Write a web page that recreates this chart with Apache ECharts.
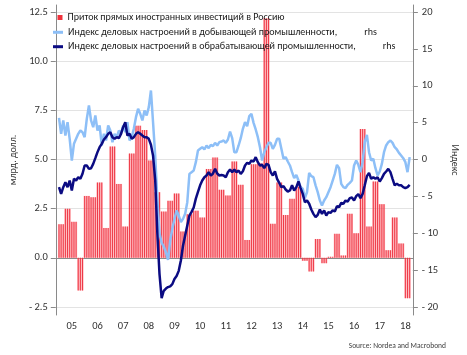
<!DOCTYPE html>
<html><head><meta charset="utf-8">
<script src="https://cdn.jsdelivr.net/npm/echarts@6/dist/echarts.min.js"></script>
<style>html,body{margin:0;padding:0;background:#fff}#c{width:467px;height:355px}</style>
</head><body><div id="c"></div>
<script>
// ---- data ----
const years = ['05','06','07','08','09','10','11','12','13','14','15','16','17','18'];
// Quarterly FDI inflow, bn USD (2005Q1 .. 2018Q3)
const fdiQuarterly = [1.71, 2.49, 1.83, -1.66, 3.15, 3.08, 3.83, 1.52, 5.66, 3.76, 1.59, 5.30,
  6.72, 6.50, 4.95, 3.34, 2.35, 2.90, 3.27, 1.34, 2.22, 2.40, 2.05, 4.52, 5.10, 3.46, 3.17, 4.90,
  3.71, 0.91, 4.76, 4.80, 12.18, 1.73, 3.83, 2.18, 3.00, 3.62, -0.15, -0.69, 0.96, -0.27, 0.05, 1.22,
  0.12, 2.24, 1.25, 6.55, 1.59, 3.88, 2.73, 0.39, 2.05, 0.73, -2.05];
// Monthly business confidence, mining (Jan 2005 .. Sep 2018), rhs
const miningIndex = [5.65, 3.48, 5.29, 3.25, 5.06, 2.80, -0.14, 2.12, 2.80, 3.48, 3.93, 3.71,
  3.03, 5.51, 7.32, 5.29, 4.38, 5.97, 3.93, 4.61, 1.90, 3.48, 2.58, 4.61,
  3.93, 2.35, 3.48, 3.03, 3.93, 3.48, 4.61, 3.71, 5.06, 2.58, 3.03, 4.16,
  5.74, 6.87, 6.19, 5.29, 6.64, 5.97, 7.1, 9.36, 5.0, 0.5, -5.5, -10.0,
  -11.3, -11.8, -12.6, -13.6, -11.0, -9.4, -8.05, -6.92, -7.6, -8.5, -8.05, -7.37,
  -5.79, -1.95, -1.72, -1.5, -0.36, 1.22, 1.45, 1.67, 1.36, 1.9, 1.54, 1.99,
  1.81, 2.26, 1.9, 2.35, 2.44, 2.58, 2.26, 2.71, 3.79, 2.89, 0.99,
  0.99, 1.90, 2.89, 4.16, 5.06, 4.52, 5.88, 6.19, 4.97, 4.07, 3.03, 1.67,
  -0.14, 0.99, 1.67, 2.26, 2.26, 1.45, 1.99, 2.80, 2.8, 1.45, 0.09, 0.32,
  -0.27, -0.81, -1.72, -2.53, -2.08, -2.85, -3.75, -3.97, -5.24, -4.43, -1.81, -2.26,
  -2.4, -3.5, -4.43, -5.56, -6.24, -5.56,
  -5.11, -4.43, -3.75, -2.85, -1.95, -0.72, -1.18, -3.3, -3.75, -3.88, -3.43, -3.16,
  -2.85, -0.81, -0.14, -0.72, -1.72, -0.36, 2.35, 3.34, 0.99, -0.14, 0.09, -1.18,
  -2.17, -1.63, -0.59, 0.99, 1.90, 2.35, 2.58, 2.26, 1.67, 1.36, 0.9, 0.54,
  0.18, -0.36, -1.72, 0.32];
// Monthly business confidence, manufacturing (Jan 2005 .. Sep 2018), rhs
const manufIndex = [-3.75, -4.66, -3.75, -3.07, -3.75, -2.85, -4.20, -2.62, -2.85, -2.40, -2.62, -1.94,
  -0.81, -0.81, -1.27, -1.18, -0.59, 0.18, 1.00, 1.67, 2.12, 2.71, 3.03, 3.48,
  3.71, 3.03, 2.80, 3.03, 2.89, 3.48, 4.38, 5.06, 3.25, 3.48, 2.80, 3.03,
  3.48, 3.71, 3.48, 3.25, 3.03, 3.03, 2.8, 2.0, 0.5, -2.8, -10.0, -15.5,
  -18.8, -17.8, -17.5, -17.3, -17.2, -16.9, -16.2, -15.8, -15.1, -13.7, -11.7, -10.3,
  -8.95, -7.6, -7.1, -6.5, -5.3, -4.4, -3.5, -2.85, -2.4, -2.17, -1.72, -2.2,
  -1.9, -1.27, -1.9, -2.17, -2.1, -2.17, -2.4, -1.72, -1.36, -1.72, -1.36,
  -1.72, -1.5, -1.95, -1.6, -0.81, -0.45, -0.59, -0.14, -0.27, 0.32, -0.36, -0.81,
  -0.72, -1.18, -0.59, -0.72, -1.72, -2.17, -1.6, -2.62, -3.16, -3.75, -3.6, -4.07,
  -4.34, -4.2, -3.5, -4.2, -3.75, -2.98, -3.88, -4.66, -5.79, -5.56, -6.0, -6.78,
  -7.37, -7.82, -7.5, -6.78, -7.37, -6.9,
  -7.59, -7.14, -7.23, -6.9, -7.05, -6.33, -6.46, -5.88, -6.0, -5.56, -5.7, -5.24,
  -5.15, -5.56, -4.97, -4.7, -5.24, -4.66, -3.5, -2.26, -1.81, -2.62, -2.4, -2.62,
  -2.4, -2.98, -2.53, -1.95, -1.63, -1.27, -1.72, -2.62, -3.5, -3.3, -3.5, -3.5,
  -3.75, -3.88, -3.75, -3.43];
const leftTicks = [-2.5, 0, 2.5, 5, 7.5, 10, 12.5];
const rightTicks = [-20, -15, -10, -5, 0, 5, 10, 15, 20];

const FDI_NAME = 'Приток прямых иностранных инвестиций в Россию';
const MINING_NAME = 'Индекс деловых настроений в добывающей промышленности,';
const MANUF_NAME = 'Индекс деловых настроений в обрабатывающей промышленности,';

// ---- monthly category axis: Dec 2004 .. Oct 2018 ----
const categories = ['2004-12'];
years.forEach(yy => { for (let m = 1; m <= 12; m++) categories.push('20' + yy + '-' + String(m).padStart(2, '0')); });
categories.length = categories.indexOf('2018-10') + 1;

const fdiMonthly = categories.map((c, k) => {
  if (k === 0) return null;
  const q = Math.floor((k - 1) / 3);
  return q < fdiQuarterly.length ? fdiQuarterly[q] : null;
});
const mining = categories.map((c, k) => k === 0 ? null : (k - 1 < miningIndex.length ? miningIndex[k - 1] : null));
const manuf = categories.map((c, k) => k === 0 ? null : (k - 1 < manufIndex.length ? manufIndex[k - 1] : null));

// ---- layout ----
const GT = 5, GB = 315, TT = 12, TB = 307;
const lppu = (TB - TT) / 15, rppu = (TB - TT) / 40;
const lMax = 12.5 + (TT - GT) / lppu, lMin = -2.5 - (GB - TB) / lppu;
const rMax = 20 + (TT - GT) / rppu, rMin = -20 - (GB - TB) / rppu;

const FONT = 'Carlito, Lato, sans-serif';
const axisGray = '#8a8a8a';
const fmtL = v => { const a = Math.abs(v).toFixed(1); return v < 0 ? '- ' + a : a; };
const fmtR = v => v < 0 ? '- ' + Math.abs(v) : String(v);

const chart = echarts.init(document.getElementById('c'), null, {renderer: 'canvas'});
chart.setOption({
  animation: false,
  textStyle: {fontFamily: FONT},
  title: {text: 'Source: Nordea and Macrobond', right: 16, top: 337,
    textStyle: {fontSize: 7.5, fontWeight: 'normal', color: '#404040', fontFamily: FONT}},
  legend: [
    {data: [{name: FDI_NAME, itemStyle: {color: '#f0323c'}}], left: 52.5, top: 6.5,
     icon: 'rect', itemWidth: 5, itemHeight: 5, selectedMode: false,
     textStyle: {fontSize: 10, lineHeight: 12, color: '#1a1a1a'}},
    {data: [MINING_NAME, MANUF_NAME], orient: 'vertical', left: 48, top: 21.3,
     icon: 'rect', itemWidth: 10, itemHeight: 3, itemGap: 2.4, selectedMode: false,
     formatter: n => n + '{s|}rhs',
     textStyle: {fontSize: 10, lineHeight: 12, color: '#1a1a1a', rich: {s: {width: 27}}}}
  ],
  grid: {left: 46, right: 43, top: GT, bottom: 355 - GB, containLabel: false},
  xAxis: [
    {type: 'category', data: categories, boundaryGap: true,
     axisLine: {lineStyle: {color: axisGray}},
     axisTick: {length: 5, lineStyle: {color: axisGray}, interval: (i, v) => v.endsWith('-01')},
     axisLabel: {interval: (i, v) => v.endsWith('-07'), formatter: v => v.slice(2, 4),
       margin: 6, fontSize: 10.5, color: '#333'}},
    {type: 'category', data: categories, boundaryGap: true, show: false}
  ],
  yAxis: [
    {type: 'value', min: lMin, max: lMax, position: 'left',
     axisLine: {show: true, lineStyle: {color: axisGray}},
     axisTick: {show: true, length: 5, customValues: leftTicks, lineStyle: {color: axisGray}},
     axisLabel: {customValues: leftTicks, formatter: fmtL, margin: 8, fontSize: 10.5, color: '#333'},
     splitLine: {show: true, lineStyle: {color: '#e3e3e3', width: 1}},
     name: 'млрд. долл.', nameLocation: 'middle', nameGap: 30,
     nameTextStyle: {fontSize: 10, color: '#333'}},
    {type: 'value', min: rMin, max: rMax, position: 'right',
     axisLine: {show: true, lineStyle: {color: axisGray}},
     axisTick: {show: true, length: 5, customValues: rightTicks, lineStyle: {color: axisGray}},
     axisLabel: {customValues: rightTicks, formatter: fmtR, margin: 9, fontSize: 10.5, color: '#333'},
     splitLine: {show: false},
     name: 'Индекс', nameLocation: 'middle', nameGap: 25, nameRotate: -90,
     nameTextStyle: {fontSize: 10, color: '#333'}}
  ],
  series: [
    {name: MINING_NAME, type: 'line', yAxisIndex: 1, data: mining, symbol: 'none',
     color: '#8dbff7', lineStyle: {color: '#8dbff7', width: 2.5}, silent: true},
    {name: FDI_NAME, type: 'bar', data: fdiMonthly, barCategoryGap: '0%',
     itemStyle: {color: 'rgba(255,120,130,0.55)'}, silent: true},
    {name: FDI_NAME, type: 'bar', xAxisIndex: 1, data: fdiMonthly, barWidth: 1,
     itemStyle: {color: 'rgba(235,35,50,0.85)'}, silent: true},
    {name: MANUF_NAME, type: 'line', yAxisIndex: 1, data: manuf, symbol: 'none',
     color: '#0b0b82', lineStyle: {color: '#0b0b82', width: 2.5}, silent: true}
  ]
});
</script></body></html>
